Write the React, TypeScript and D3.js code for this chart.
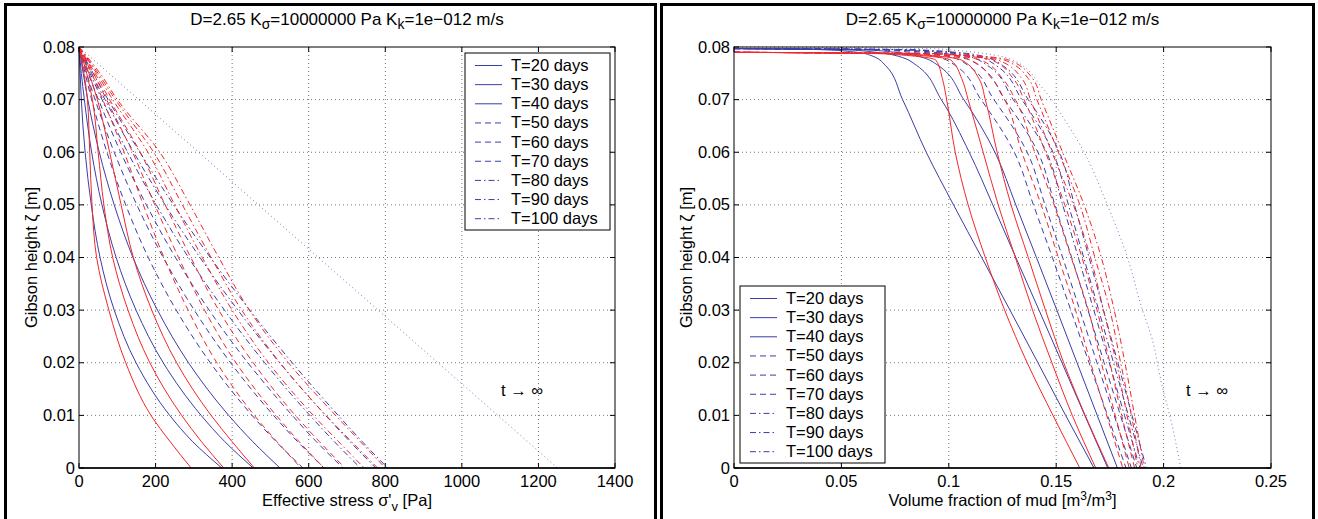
import React from "react";
import * as d3 from "d3";

// ---- data ----
const days = [20, 30, 40, 50, 60, 70, 80, 90, 100];

// left panel: effective stress [Pa] at these Gibson heights [m]
const stressHeights = [0.08, 0.075, 0.07, 0.06, 0.05, 0.04, 0.03, 0.02, 0.01, 0.005, 0];
const stressBlue = [
  [0, 3, 6, 16, 32, 55, 92, 149, 237, 297, 373],
  [0, 6, 14, 33, 60, 97, 149, 220, 319, 381, 455],
  [0, 11, 23, 53, 92, 141, 205, 286, 391, 454, 525],
  [0, 16, 33, 73, 122, 181, 254, 343, 452, 515, 585],
  [0, 20, 42, 92, 151, 220, 301, 396, 508, 571, 640],
  [0, 24, 51, 109, 176, 252, 340, 441, 557, 620, 690],
  [0, 29, 60, 127, 202, 286, 380, 485, 603, 667, 735],
  [0, 33, 68, 143, 225, 316, 415, 524, 644, 708, 775],
  [0, 37, 76, 159, 247, 343, 446, 557, 677, 740, 806],
];
const stressRed = [
  [0, 13, 22, 28, 34, 46, 78, 122, 188, 238, 293],
  [0, 20, 35, 50, 65, 88, 128, 185, 268, 320, 378],
  [0, 26, 48, 80, 110, 142, 190, 255, 345, 400, 458],
  [0, 33, 62, 118, 168, 222, 285, 360, 458, 517, 580],
  [0, 38, 72, 140, 198, 260, 328, 410, 515, 575, 640],
  [0, 42, 80, 160, 225, 292, 365, 455, 565, 628, 695],
  [0, 46, 88, 180, 250, 322, 400, 495, 612, 678, 745],
  [0, 50, 95, 195, 270, 345, 425, 525, 645, 712, 780],
  [0, 55, 100, 211, 290, 365, 445, 547, 670, 735, 800],
];
const stressInf = [
  [0, 0.08],
  [1250, 0],
];

// right panel: volume fraction of mud at these heights
const fracBlueHeights = [0.0797, 0.0795, 0.079, 0.0785, 0.0765, 0.07, 0.06, 0.05, 0.04, 0.03, 0.02, 0.01, 0];
const fracBlue = [
  [0, 0.04, 0.057, 0.063, 0.0705, 0.0785, 0.0895, 0.1022, 0.1153, 0.1285, 0.1415, 0.1544, 0.1676],
  [0, 0.05, 0.066, 0.074, 0.085, 0.0965, 0.1095, 0.1205, 0.1312, 0.142, 0.1527, 0.1633, 0.174],
  [0, 0.058, 0.075, 0.083, 0.095, 0.107, 0.1215, 0.1312, 0.1408, 0.1503, 0.1597, 0.1691, 0.1785],
  [0, 0.064, 0.082, 0.091, 0.103, 0.115, 0.1305, 0.1394, 0.1482, 0.1568, 0.1653, 0.1739, 0.1825],
  [0, 0.069, 0.088, 0.097, 0.109, 0.121, 0.1365, 0.1448, 0.153, 0.161, 0.169, 0.177, 0.185],
  [0, 0.073, 0.093, 0.102, 0.114, 0.126, 0.1415, 0.1494, 0.1572, 0.1648, 0.1723, 0.1799, 0.1875],
  [0, 0.076, 0.097, 0.106, 0.118, 0.13, 0.1455, 0.153, 0.1603, 0.1675, 0.1747, 0.1818, 0.189],
  [0, 0.079, 0.1, 0.11, 0.122, 0.134, 0.1485, 0.1557, 0.1628, 0.1698, 0.1767, 0.1836, 0.1905],
  [0, 0.082, 0.103, 0.113, 0.125, 0.137, 0.1515, 0.1585, 0.1653, 0.172, 0.1787, 0.1853, 0.192],
];
const fracRedHeights = [0.079, 0.0787, 0.0775, 0.074, 0.07, 0.06, 0.05, 0.04, 0.03, 0.02, 0.01, 0];
const fracRed = [
  [0, 0.07, 0.094, 0.097, 0.099, 0.103, 0.109, 0.117, 0.126, 0.1365, 0.1485, 0.161],
  [0, 0.075, 0.101, 0.106, 0.109, 0.116, 0.123, 0.131, 0.139, 0.148, 0.1575, 0.1684],
  [0, 0.08, 0.106, 0.114, 0.117, 0.1225, 0.129, 0.137, 0.145, 0.1535, 0.1635, 0.1745],
  [0, 0.085, 0.11, 0.12, 0.126, 0.134, 0.143, 0.151, 0.159, 0.166, 0.1735, 0.181],
  [0, 0.088, 0.115, 0.125, 0.131, 0.14, 0.149, 0.157, 0.165, 0.171, 0.1775, 0.184],
  [0, 0.091, 0.12, 0.13, 0.135, 0.145, 0.154, 0.162, 0.169, 0.175, 0.1805, 0.1865],
  [0, 0.094, 0.123, 0.134, 0.138, 0.148, 0.158, 0.166, 0.172, 0.178, 0.183, 0.188],
  [0, 0.096, 0.126, 0.137, 0.141, 0.151, 0.161, 0.168, 0.175, 0.18, 0.185, 0.1895],
  [0, 0.098, 0.128, 0.139, 0.143, 0.153, 0.163, 0.171, 0.177, 0.182, 0.1865, 0.191],
];
const fracInf = [
  [0, 0.08], [0.05, 0.0799], [0.096, 0.0796], [0.13, 0.0775], [0.143, 0.0725],
  [0.155, 0.0655], [0.163, 0.06], [0.1738, 0.05], [0.1832, 0.04], [0.1894, 0.031],
  [0.195, 0.024], [0.1987, 0.0167], [0.204, 0.008], [0.208, 0],
];

const yTicks = [0, 0.01, 0.02, 0.03, 0.04, 0.05, 0.06, 0.07, 0.08];
const stressTicks = [0, 200, 400, 600, 800, 1000, 1200, 1400];
const fracTicks = [0, 0.05, 0.1, 0.15, 0.2, 0.25];

// ---- styling ----
const BLUE = "#3a3da8";
const RED = "#f2262a";
const FONT = "'Liberation Sans', Arial, Helvetica, sans-serif";
const TOP = 47;
const BOTTOM = 468;

const dashFor = (i: number) => (i < 3 ? undefined : i < 6 ? "6,4" : "6,3,1.5,3");

const Title = ({ cx }: { cx: number }) => (
  <text x={cx} y={25} textAnchor="middle" fontSize={17}>
    D=2.65 K<tspan dy={4} fontSize={14}>σ</tspan>
    <tspan dy={-4}>=10000000 Pa K</tspan>
    <tspan dy={4} fontSize={14}>k</tspan>
    <tspan dy={-4}>=1e−012 m/s</tspan>
  </text>
);

const Legend = ({ x, y }: { x: number; y: number }) => (
  <g>
    <rect x={x} y={y} width={145} height={177} fill="white" stroke="black" />
    {days.map((d, i) => {
      const cy = y + 12.5 + i * 19.15;
      return (
        <g key={d}>
          <line x1={x + 10} x2={x + 37} y1={cy} y2={cy} stroke={BLUE} strokeDasharray={dashFor(i)} />
          <text x={x + 46} y={cy + 5.5} fontSize={16.5}>
            T={d} days
          </text>
        </g>
      );
    })}
  </g>
);

type PanelProps = {
  left: number;
  right: number;
  xDomain: [number, number];
  xTicks: number[];
  blue: number[][][];
  red: number[][][];
  inf: number[][];
  legend: [number, number];
  xLabel: React.ReactNode;
  infX: number;
};

const Panel = (p: PanelProps) => {
  const x = d3.scaleLinear().domain(p.xDomain).range([p.left, p.right]);
  const y = d3.scaleLinear().domain([0, 0.08]).range([BOTTOM, TOP]);
  const line = d3
    .line<number[]>()
    .x((d) => x(d[0]))
    .y((d) => y(d[1]))
    .curve(d3.curveMonotoneY);
  const cx = (p.left + p.right) / 2;
  return (
    <g fontFamily={FONT}>
      <Title cx={cx} />
      {/* grid */}
      {p.xTicks.slice(1, -1).map((t) => (
        <line key={"gx" + t} x1={x(t)} x2={x(t)} y1={TOP} y2={BOTTOM} stroke="#777" strokeDasharray="1,3" />
      ))}
      {yTicks.slice(1, -1).map((t) => (
        <line key={"gy" + t} x1={p.left} x2={p.right} y1={y(t)} y2={y(t)} stroke="#777" strokeDasharray="1,3" />
      ))}
      {/* curves */}
      <g fill="none" strokeWidth={1}>
        <path d={line(p.inf) || ""} stroke={BLUE} strokeOpacity={0.7} strokeDasharray="1,3" />
        {p.blue.map((pts, i) => (
          <path key={"b" + i} d={line(pts) || ""} stroke={BLUE} strokeDasharray={dashFor(i)} />
        ))}
        {p.red.map((pts, i) => (
          <path key={"r" + i} d={line(pts) || ""} stroke={RED} strokeDasharray={dashFor(i)} />
        ))}
      </g>
      {/* box and ticks */}
      <rect x={p.left} y={TOP} width={p.right - p.left} height={BOTTOM - TOP} fill="none" stroke="black" />
      <line x1={p.left} x2={p.right} y1={BOTTOM} y2={BOTTOM} stroke="black" strokeWidth={1.5} />
      {p.xTicks.map((t) => (
        <g key={"tx" + t}>
          <line x1={x(t)} x2={x(t)} y1={BOTTOM} y2={BOTTOM - 5} stroke="black" />
          <line x1={x(t)} x2={x(t)} y1={TOP} y2={TOP + 5} stroke="black" />
          <text x={x(t)} y={487} textAnchor="middle" fontSize={16.5}>
            {d3.format("~g")(t)}
          </text>
        </g>
      ))}
      {yTicks.map((t) => (
        <g key={"ty" + t}>
          <line x1={p.left} x2={p.left + 5} y1={y(t)} y2={y(t)} stroke="black" />
          <line x1={p.right} x2={p.right - 5} y1={y(t)} y2={y(t)} stroke="black" />
          <text x={p.left - 4} y={y(t) + 5.5} textAnchor="end" fontSize={16.5}>
            {d3.format("~g")(t)}
          </text>
        </g>
      ))}
      <Legend x={p.legend[0]} y={p.legend[1]} />
      <text x={p.infX} y={396} fontSize={16.5}>
        t → ∞
      </text>
      <text transform={`translate(${p.left - 42},${(TOP + BOTTOM) / 2}) rotate(-90)`} textAnchor="middle" fontSize={16.5}>
        Gibson height ζ [m]
      </text>
      <text x={cx} y={506} textAnchor="middle" fontSize={16.5}>
        {p.xLabel}
      </text>
    </g>
  );
};

const App = () => {
  const leftBlue = stressBlue.map((v) => v.map((s, j) => [s, stressHeights[j]]));
  const leftRed = stressRed.map((v) => v.map((s, j) => [s, stressHeights[j]]));
  const rightBlue = fracBlue.map((v) => v.map((f, j) => [f, fracBlueHeights[j]]));
  const rightRed = fracRed.map((v) => v.map((f, j) => [f, fracRedHeights[j]]));
  return (
    <svg width={1318} height={519} style={{ position: "absolute", left: 0, top: 0, background: "white" }}>
      <rect x={5.5} y={4.5} width={650} height={600} fill="none" stroke="black" strokeWidth={3} />
      <rect x={661.5} y={4.5} width={652} height={600} fill="none" stroke="black" strokeWidth={3} />
      <Panel
        left={79}
        right={615}
        xDomain={[0, 1400]}
        xTicks={stressTicks}
        blue={leftBlue}
        red={leftRed}
        inf={stressInf}
        legend={[465, 53]}
        infX={501}
        xLabel={
          <>
            Effective stress σ'<tspan dy={5} fontSize={13}>v</tspan>
            <tspan dy={-5}> [Pa]</tspan>
          </>
        }
      />
      <Panel
        left={734}
        right={1271}
        xDomain={[0, 0.25]}
        xTicks={fracTicks}
        blue={rightBlue}
        red={rightRed}
        inf={fracInf}
        legend={[740, 286]}
        infX={1186}
        xLabel={
          <>
            Volume fraction of mud [m<tspan dy={-6} fontSize={12}>3</tspan>
            <tspan dy={6}>/m</tspan>
            <tspan dy={-6} fontSize={12}>3</tspan>
            <tspan dy={6}>]</tspan>
          </>
        }
      />
    </svg>
  );
};

export default App;
